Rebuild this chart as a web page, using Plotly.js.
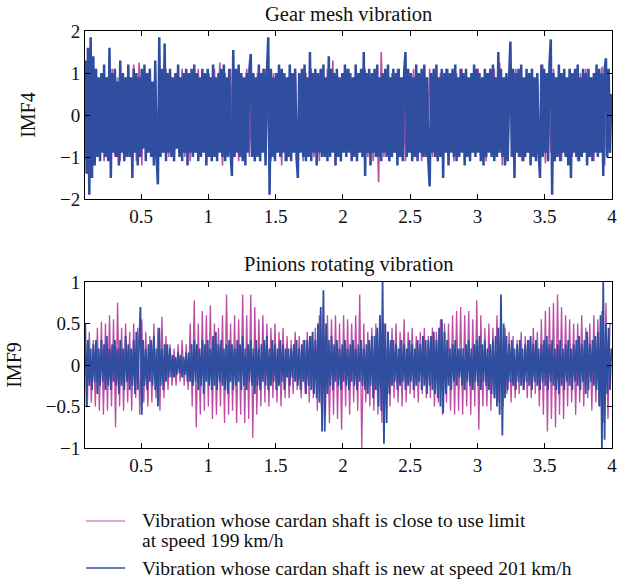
<!DOCTYPE html>
<html>
<head>
<meta charset="utf-8">
<script src="https://cdn.plot.ly/plotly-3.0.1.min.js"></script>
<style>html,body{margin:0;padding:0;background:#fff;}#chart{width:630px;height:583px;}</style>
</head>
<body>
<div id="chart"></div>
<script>
// Sampling grid (seconds)
const startTime = 0.085;
const stepTopBlue = 0.01, stepTopPink = 0.02, stepBotPink = 0.015, stepBotBlue = 0.01;

// IMF4 – gear mesh vibration, new cardan shaft (201 km/h)
const imf4New = [
1.3,-1.4,1.6,-1.9,1.85,-1.5,1.4,-1.2,1.1,-1.0,0.9,-1.1,1.0,-0.9,1.2,-1.0,0.9,-1.1,1.6,-1.5,
1.0,-0.9,1.1,-1.0,0.8,-1.2,1.3,-0.9,1.0,-1.1,0.9,-1.0,1.2,-1.0,0.9,-1.5,1.1,-0.9,1.0,-1.2,
0.9,-1.0,1.1,-0.8,1.2,-1.1,1.0,-0.9,1.1,-1.0,0.8,-1.2,1.3,-1.0,-1.65,1.85,-1.0,1.1,-0.9,1.7,
-1.1,1.0,-0.9,1.1,-1.0,0.9,-1.1,1.0,-0.8,1.2,-1.0,0.9,-1.1,1.0,-0.9,1.1,-1.2,1.0,-0.9,1.1,
-1.0,1.2,-0.9,1.0,-1.1,0.9,-1.0,1.1,-0.9,1.0,-1.2,1.1,-1.0,0.9,-1.1,1.2,-1.0,0.9,-1.1,1.0,
-0.9,1.1,-1.0,1.2,-1.1,0.9,-1.0,1.1,-0.9,-1.45,1.55,-1.0,1.1,-0.9,1.2,-1.0,1.0,-1.1,0.9,-1.2,
1.0,-0.9,1.1,1.45,-1.0,1.0,-1.1,0.9,-1.0,1.2,-1.1,1.0,-0.9,1.1,-1.2,1.0,1.85,-1.9,1.1,-1.0,
0.9,-1.1,1.0,-0.9,1.2,-1.0,1.1,-0.9,1.0,-1.1,0.9,-1.0,1.2,-1.1,1.0,-0.9,1.1,-1.0,-1.5,1.0,
-0.9,1.1,-1.0,1.2,-1.1,0.9,-1.0,1.5,-1.1,1.0,-0.9,1.1,-1.2,1.0,-0.9,1.1,-1.0,1.2,-1.0,0.9,
-1.1,1.4,-1.0,1.1,-0.9,1.0,-1.2,1.1,-1.0,0.9,-1.1,1.0,-0.9,1.2,-1.0,1.1,-0.9,1.0,-1.1,0.9,
-1.0,1.2,-1.1,1.0,-0.9,1.1,-1.0,1.5,-1.45,1.0,-0.9,1.1,-1.2,1.0,-0.9,1.1,-1.0,1.2,-1.0,0.9,
-1.1,1.0,-0.9,1.1,-1.0,1.2,-1.1,0.9,-1.0,1.1,-0.9,1.0,-1.2,1.1,-1.0,0.9,-1.1,1.0,1.5,-1.0,
1.1,-0.9,1.0,-1.1,0.9,-1.0,1.2,-1.1,1.0,-0.9,1.1,-1.0,1.2,-1.0,0.9,-1.1,-1.7,1.0,-0.9,1.1,
-1.0,1.2,-1.1,0.9,-1.0,1.1,-1.5,1.0,-0.9,1.1,-1.2,1.0,-0.9,1.1,-1.0,1.2,-1.1,0.9,-1.0,1.1,
-0.9,1.0,-1.2,1.1,-1.0,0.9,-1.1,1.0,-0.9,1.2,-1.0,1.1,-0.9,1.0,-1.1,0.9,-1.2,1.1,-1.0,1.0,
-0.9,1.1,-1.0,1.2,-1.1,0.9,-1.0,1.5,-0.9,1.1,-1.0,0.9,-1.2,1.0,-1.1,0.9,1.75,-1.0,1.1,-1.5,
1.0,-0.9,1.1,-1.0,1.2,-1.1,0.9,-1.0,1.1,-0.9,1.0,-1.2,1.1,-1.0,0.9,-1.1,1.0,-0.9,-1.5,1.2,
-1.0,1.1,-0.9,1.0,-1.1,1.2,1.8,-1.9,1.0,-1.1,0.9,-1.0,1.2,-1.1,1.0,-0.9,1.1,-1.0,0.9,-1.2,
1.1,-1.5,1.0,-0.9,1.1,-1.0,1.2,-1.1,0.9,-1.0,1.1,-0.9,1.0,-1.2,1.1,-1.0,0.9,-1.1,1.0,-0.9,
1.2,-1.0,1.1,-0.9,1.0,-1.45,1.1,1.35,-1.0,1.1,-0.9,0.5
];

// IMF4 – gear mesh vibration, worn cardan shaft (199 km/h)
const imf4Worn = [
1.0,-1.1,0.9,-1.0,1.1,-0.9,1.0,-1.1,0.9,-1.0,1.1,-1.0,0.9,-1.1,1.0,-0.9,1.1,-1.0,1.2,-1.1,
1.25,-1.2,1.0,-0.9,1.1,-1.0,0.9,-1.1,1.0,-0.9,1.1,-1.0,0.9,-1.1,1.0,-0.9,1.1,-1.0,0.9,-1.1,
1.0,-0.9,1.1,-1.0,0.9,-1.1,1.0,-0.9,1.1,-1.0,1.25,-1.2,1.0,-0.9,1.1,-1.0,0.9,-1.1,1.0,-0.9,
1.1,-1.0,0.9,-1.1,1.0,-0.9,1.1,-1.0,0.9,-1.1,1.0,-0.9,1.1,-1.2,0.9,-1.1,1.0,-0.9,1.1,-1.0,
0.9,-1.1,1.0,-0.9,1.1,-1.0,0.9,-1.1,1.0,-0.9,1.1,-1.0,1.3,-1.2,0.9,-1.1,1.0,-0.9,1.1,-1.0,
0.9,-1.1,1.0,-0.9,1.1,-1.0,0.9,-1.1,1.0,-1.6,1.5,-1.0,0.9,-1.1,1.0,-0.9,1.1,-1.0,0.9,-1.1,
1.0,-0.9,1.1,-1.0,0.9,-1.1,1.0,-0.9,1.1,-1.0,0.9,-1.1,1.0,-0.9,1.1,-1.0,0.9,-1.1,1.0,-0.9,
1.1,-1.0,0.9,-1.1,1.0,-0.9,1.1,-1.0,0.9,-1.1,1.0,-0.9,1.1,-1.0,1.25,-1.2,0.9,-1.1,1.0,-0.9,
1.1,-1.0,0.9,-1.1,1.0,-0.9,1.1,-1.0,0.9,-1.1,1.2,-1.15,1.0,-0.9,1.1,-1.0,0.9,-1.1,1.0,-0.9,
1.1,-1.0,0.9,-1.1,1.0,-0.9,1.1,-1.0,0.9,-1.1,1.0,-0.9,1.15,-1.2,1.0,-0.9
];

// IMF9 – pinions rotating vibration, worn cardan shaft (199 km/h)
const imf9Worn = [
0.35,-0.5,0.4,-0.45,0.3,-0.5,0.45,-0.55,0.52,-0.6,0.5,-0.55,0.6,-0.5,0.55,-0.75,0.75,-0.5,0.45,-0.55,
0.5,-0.45,0.4,-0.55,0.5,-0.4,0.45,-0.6,0.55,-0.45,0.4,-0.5,0.35,-0.45,0.5,-0.4,0.45,-0.55,0.58,-0.4,
0.35,-0.3,0.25,-0.25,0.2,-0.25,0.25,-0.2,0.3,-0.25,0.25,-0.3,0.5,-0.5,0.78,-0.75,0.5,-0.6,0.65,-0.55,
0.6,-0.5,0.72,-0.65,0.5,-0.6,0.45,-0.5,0.6,-0.7,0.85,-0.6,0.5,-0.55,0.6,-0.7,0.55,-0.6,0.85,-0.7,
0.6,-0.65,0.85,-0.88,0.7,-0.6,0.55,-0.5,0.6,-0.45,0.5,-0.5,0.45,-0.4,0.5,-0.45,0.4,-0.5,0.45,-0.4,
0.35,-0.4,0.3,-0.35,0.4,-0.3,0.35,-0.4,0.3,-0.35,0.4,-0.45,0.35,-0.4,0.45,-0.55,0.6,-0.5,0.7,-0.6,
0.6,-0.7,0.55,-0.6,0.6,-0.65,0.5,-0.78,0.6,-0.5,0.55,-0.6,0.5,-0.45,0.6,-0.55,0.85,-1.0,0.5,-0.45,
0.4,-0.5,0.45,-0.55,0.5,-0.6,0.6,-0.7,0.5,-0.45,0.4,-0.5,0.45,-0.4,0.5,-0.45,0.4,-0.5,0.55,-0.45,
0.4,-0.35,0.45,-0.4,0.35,-0.45,0.4,-0.35,0.45,-0.4,0.35,-0.4,0.45,-0.5,0.4,-0.45,0.55,-0.6,0.5,-0.45,
0.5,-0.55,0.6,-0.6,0.65,-0.55,0.7,-0.6,0.6,-0.5,0.65,-0.6,0.55,-0.5,0.78,-0.78,0.6,-0.5,0.45,-0.5,
0.5,-0.55,0.45,-0.4,0.6,-0.45,0.4,-0.5,0.45,-0.35,0.4,-0.45,0.35,-0.4,0.3,-0.35,0.4,-0.3,0.35,-0.4,
0.3,-0.4,0.45,-0.35,0.4,-0.5,0.55,-0.6,0.65,-0.8,0.7,-0.65,0.75,-0.75,0.85,-0.6,0.7,-0.65,0.6,-0.5,
0.55,-0.45,0.5,-0.6,0.5,-0.45,0.6,-0.5,0.45,-0.4,0.5,-0.55,0.6,-0.45,0.55,-0.5,0.65,-0.7,0.75,-0.65,
0.5
];

// IMF9 – pinions rotating vibration, new cardan shaft (201 km/h)
const imf9New = [
0.5,-0.5,0.3,-0.25,0.2,-0.3,0.25,-0.2,0.3,-0.35,0.2,-0.25,0.3,-0.2,0.25,-0.3,0.35,-0.25,0.2,-0.3,
0.25,-0.2,0.3,-0.25,0.2,-0.35,0.3,-0.25,0.2,-0.3,0.35,-0.2,0.25,-0.3,0.2,-0.25,0.3,-0.35,0.4,-0.3,
0.25,0.7,-0.6,0.3,-0.25,0.2,-0.3,0.25,-0.2,0.3,-0.25,0.35,-0.3,0.2,-0.5,0.45,-0.25,0.2,-0.3,0.25,
-0.2,0.25,-0.15,0.2,-0.15,0.12,-0.15,0.1,-0.12,0.15,-0.1,0.12,-0.15,0.1,-0.12,0.15,-0.2,0.15,-0.2,0.25,
-0.25,0.3,-0.2,0.25,-0.3,0.2,-0.25,0.3,-0.35,0.25,-0.2,0.3,-0.25,0.2,-0.3,0.35,-0.25,0.4,-0.3,0.25,
-0.2,0.3,-0.25,0.2,-0.3,0.25,-0.35,0.3,-0.2,0.25,-0.3,0.2,-0.25,0.3,-0.2,0.25,-0.3,0.35,-0.25,0.2,
-0.3,0.25,-0.2,0.3,-0.25,0.2,-0.35,0.3,-0.25,0.2,-0.3,0.25,-0.2,0.3,-0.25,0.35,-0.3,0.2,-0.25,0.3,
-0.2,0.25,-0.3,0.2,-0.25,0.3,-0.2,0.25,-0.3,0.2,-0.15,0.2,-0.25,0.2,-0.15,0.25,-0.2,0.3,-0.25,0.2,
-0.3,0.25,-0.2,0.3,-0.35,0.3,-0.25,0.35,-0.3,0.4,-0.35,0.3,-0.4,0.5,-0.45,0.7,-0.8,0.9,-0.8,0.5,
-0.35,0.3,-0.25,0.35,-0.3,0.25,-0.2,0.3,-0.25,0.2,-0.3,0.25,-0.2,0.3,-0.25,0.2,-0.3,0.25,-0.2,0.3,
-0.25,0.2,-0.3,0.25,-0.2,0.3,-0.25,0.2,-0.3,0.25,-0.35,0.3,-0.25,0.35,-0.4,0.35,-0.3,0.45,-0.5,0.6,
-0.55,1.0,-0.95,0.5,-0.7,0.4,-0.35,0.3,-0.25,0.3,-0.2,0.25,-0.3,0.2,-0.25,0.3,-0.2,0.25,-0.3,0.2,
-0.25,0.3,-0.2,0.25,-0.3,0.2,-0.25,0.3,-0.2,0.25,-0.3,0.35,-0.25,0.3,-0.35,0.3,-0.25,0.35,-0.3,0.4,
-0.35,0.3,-0.4,0.45,-0.5,0.55,-0.58,0.4,-0.35,0.3,-0.25,0.2,-0.3,0.25,-0.2,0.3,-0.25,0.2,-0.15,0.2,
-0.25,0.2,-0.3,0.25,-0.2,0.3,-0.25,0.2,-0.3,0.25,-0.2,0.3,-0.25,0.35,-0.3,0.25,-0.2,0.3,-0.25,0.2,
-0.3,0.25,-0.35,0.3,-0.4,0.35,-0.5,0.45,-0.6,0.85,-0.85,0.5,-0.4,0.35,-0.3,0.25,-0.2,0.3,-0.25,0.2,
-0.3,0.25,-0.2,0.3,-0.25,0.2,-0.3,0.25,-0.2,0.3,-0.25,0.35,-0.3,0.25,-0.2,0.3,-0.25,0.2,-0.3,0.25,
-0.2,0.3,-0.25,0.35,-0.3,0.25,-0.2,0.3,-0.25,0.2,-0.3,0.25,-0.35,0.3,-0.25,0.2,-0.3,0.25,-0.2,0.3,
-0.25,0.2,-0.3,0.25,-0.2,0.3,-0.25,0.35,-0.3,0.25,-0.2,0.3,-0.35,0.4,-0.3,0.25,-0.2,0.3,-0.25,0.35,
-0.3,0.4,-0.5,0.6,-1.0,1.0,-0.9,0.5,-0.35,0.45,-0.3,0.2
];

const panelTitles = ["Gear mesh vibration", "Pinions rotating vibration"];
const yTitles = ["IMF4", "IMF9"];
const legendLabels = ["Vibration whose cardan shaft is close to use limit", "at speed 199\u2009km/h", "Vibration whose cardan shaft is new at speed 201\u2009km/h"];
const xTickVals = [0.5, 1, 1.5, 2, 2.5, 3, 3.5, 4];
const topYTicks = [-2, -1, 0, 1, 2];
const botYTicks = [-1, -0.5, 0, 0.5, 1];

const PINK = "#bd4ca5", BLUE = "#2f4e9f";
const grid = (vals, step) => vals.map((_, i) => +(startTime + i * step).toFixed(4));

const traces = [
  {x: grid(imf4Worn, stepTopPink), y: imf4Worn, xaxis: "x", yaxis: "y", type: "scatter", mode: "lines", line: {color: PINK, width: 1.6}, showlegend: false},
  {x: grid(imf4New, stepTopBlue), y: imf4New, xaxis: "x", yaxis: "y", type: "scatter", mode: "lines", line: {color: BLUE, width: 2.5}, showlegend: false},
  {x: grid(imf9Worn, stepBotPink), y: imf9Worn, xaxis: "x2", yaxis: "y2", type: "scatter", mode: "lines", line: {color: PINK, width: 1.3}, showlegend: false},
  {x: grid(imf9New, stepBotBlue), y: imf9New, xaxis: "x2", yaxis: "y2", type: "scatter", mode: "lines", line: {color: BLUE, width: 1.8}, showlegend: false}
];

const FONT = "'Liberation Serif', 'DejaVu Serif', serif";
const axisCommon = {
  showgrid: false, zeroline: false, showline: true, linecolor: "#000", linewidth: 1,
  mirror: "ticks", ticks: "inside", ticklen: 5, tickcolor: "#000", tickwidth: 1,
  tickfont: {family: FONT, size: 19, color: "#111"}
};
const xRange = [0.083, 4];

const layout = {
  width: 630, height: 583,
  margin: {l: 85, r: 18, t: 31, b: 135},
  paper_bgcolor: "#fff", plot_bgcolor: "#fff",
  showlegend: false,
  font: {family: FONT},
  xaxis: Object.assign({}, axisCommon, {domain: [0, 1], anchor: "y", range: xRange, tickvals: xTickVals, ticktext: xTickVals.map(String)}),
  yaxis: Object.assign({}, axisCommon, {domain: [0.597, 1], anchor: "x", range: [-2, 2], tickvals: topYTicks,
    title: {text: yTitles[0], font: {family: FONT, size: 20, color: "#111"}, standoff: 18}}),
  xaxis2: Object.assign({}, axisCommon, {domain: [0, 1], anchor: "y2", range: xRange, tickvals: xTickVals, ticktext: xTickVals.map(String)}),
  yaxis2: Object.assign({}, axisCommon, {domain: [0, 0.398], anchor: "x2", range: [-1, 1], tickvals: botYTicks,
    title: {text: yTitles[1], font: {family: FONT, size: 20, color: "#111"}, standoff: 18}}),
  annotations: [
    {text: panelTitles[0], xref: "paper", yref: "paper", x: 0.5, y: 1.041, xanchor: "center", yanchor: "middle", showarrow: false, font: {family: FONT, size: 20.5, color: "#111"}},
    {text: panelTitles[1], xref: "paper", yref: "paper", x: 0.5, y: 0.441, xanchor: "center", yanchor: "middle", showarrow: false, font: {family: FONT, size: 20.5, color: "#111"}},
    {text: legendLabels[0], xref: "paper", yref: "paper", x: 0.104, y: -0.175, xanchor: "left", yanchor: "middle", showarrow: false, font: {family: FONT, size: 19.5, color: "#111"}},
    {text: legendLabels[1], xref: "paper", yref: "paper", x: 0.104, y: -0.223, xanchor: "left", yanchor: "middle", showarrow: false, font: {family: FONT, size: 19.5, color: "#111"}},
    {text: legendLabels[2], xref: "paper", yref: "paper", x: 0.104, y: -0.288, xanchor: "left", yanchor: "middle", showarrow: false, font: {family: FONT, size: 19.5, color: "#111"}}
  ],
  shapes: [
    {type: "line", xref: "paper", yref: "paper", x0: 0.002, x1: 0.076, y0: -0.175, y1: -0.175, line: {color: "#d48ac6", width: 1.5}},
    {type: "line", xref: "paper", yref: "paper", x0: 0.002, x1: 0.076, y0: -0.288, y1: -0.288, line: {color: "#3a4ea0", width: 1.5}}
  ]
};

Plotly.newPlot("chart", traces, layout, {staticPlot: true, displayModeBar: false});
</script>
</body>
</html>
